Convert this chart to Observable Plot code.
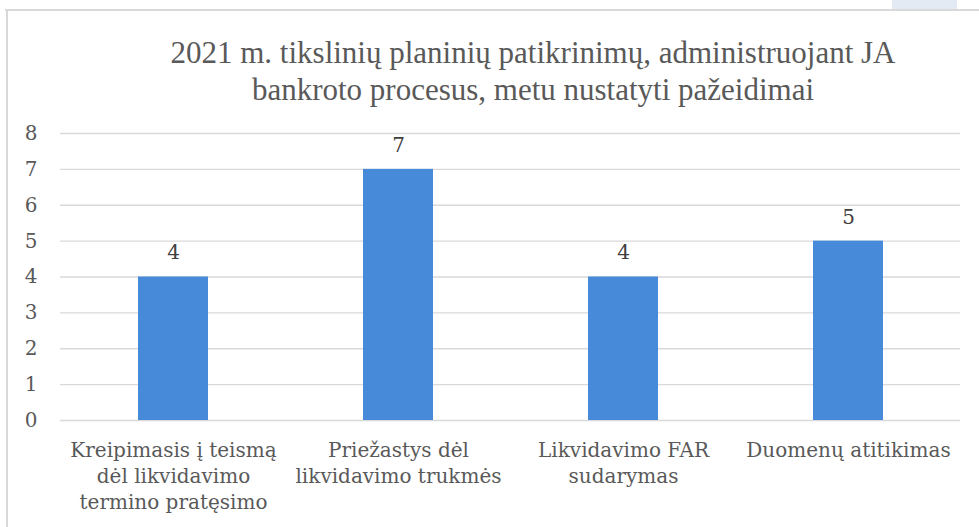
<!DOCTYPE html>
<html><head><meta charset="utf-8">
<script src="https://cdn.jsdelivr.net/npm/d3@7"></script>
<script src="https://cdn.jsdelivr.net/npm/@observablehq/plot@0.6"></script>
<style>
html,body{margin:0;padding:0;background:#fff;overflow:hidden;}
#wrap{position:relative;width:979px;height:527px;}
#title{position:absolute;left:33px;width:1000px;top:34px;text-align:center;font-family:"Liberation Serif",serif;font-size:31px;line-height:37px;color:#595959;}
#frameTop{position:absolute;left:5px;right:0;top:9px;height:2px;background:#d9d9d9;}
#frameLeft{position:absolute;left:6px;top:9px;bottom:0;width:2px;background:#d9d9d9;}
#tab{position:absolute;left:892px;width:65px;top:0;height:9px;background:#e4eaf3;}
#chart{position:absolute;left:0;top:0;}
</style></head>
<body><div id="wrap">
<div id="tab"></div>
<div id="chart"></div>
<div id="frameTop"></div><div id="frameLeft"></div>
<div id="title">2021 m. tikslinių planinių patikrinimų, administruojant JA<br>bankroto procesus, metu nustatyti pažeidimai</div>
</div>
<script>
const categories = ["Kreipimasis į teismą\ndėl likvidavimo\ntermino pratęsimo", "Priežastys dėl\nlikvidavimo trukmės", "Likvidavimo FAR\nsudarymas", "Duomenų atitikimas"];
const values = [4, 7, 4, 5];
const yTicks = [0, 1, 2, 3, 4, 5, 6, 7, 8];
const data = categories.map((c, i) => ({cat: c, value: values[i]}));
const font = "DejaVu Serif";
const chart = Plot.plot({
  width: 979, height: 527,
  marginLeft: 60, marginRight: 19, marginTop: 133, marginBottom: 107,
  style: {fontFamily: font, color: "#595959", background: "transparent"},
  x: {domain: categories, paddingInner: 0.69, paddingOuter: 0.345, axis: null},
  y: {domain: [0, 8], axis: null},
  marks: [
    Plot.ruleY(yTicks, {stroke: "#d9d9d9", strokeWidth: 1.4}),
    Plot.barY(data, {x: "cat", y: "value", fill: "#468ad9"}),
    Plot.text(data, {x: "cat", y: "value", text: d => String(d.value), dy: -24, fontSize: 20, fill: "#404040"}),
    Plot.text(yTicks, {y: d => d, text: d => String(d), frameAnchor: "left", textAnchor: "end", dx: -23, fontSize: 20, fill: "#595959"}),
    Plot.text(data, {x: "cat", y: () => 0, text: "cat", lineAnchor: "top", dy: 18, fontSize: 20, lineHeight: 1.3, fill: "#595959"})
  ]
});
document.getElementById("chart").appendChild(chart);
</script>
</body></html>
